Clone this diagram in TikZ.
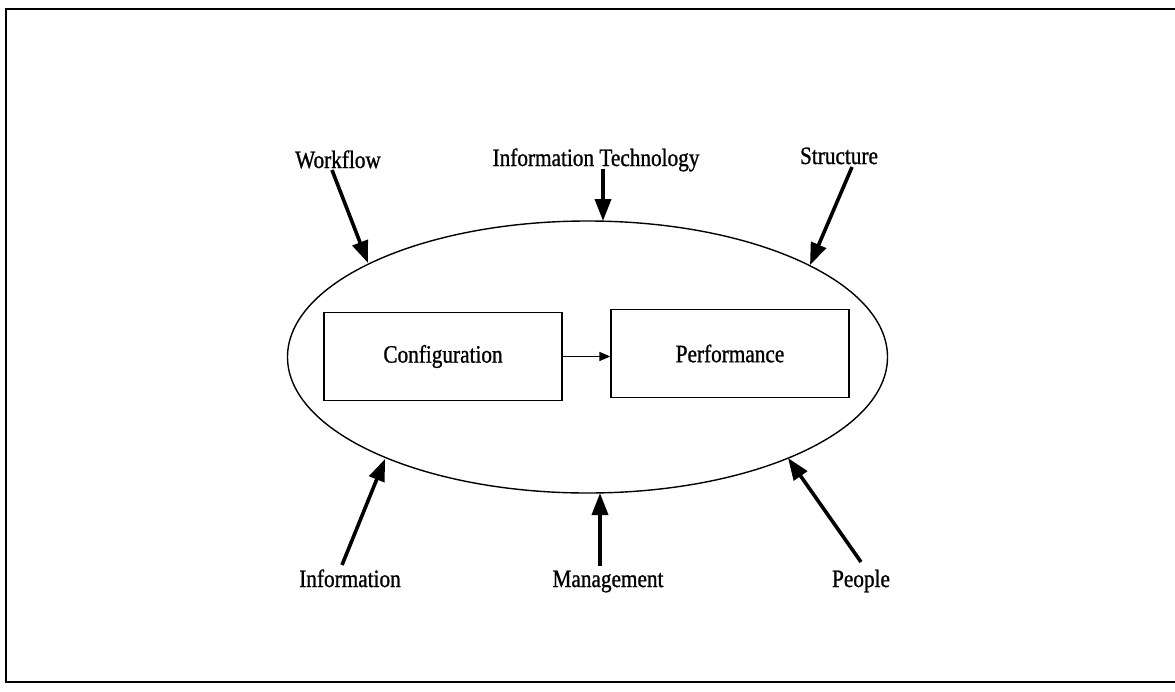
\documentclass[tikz,border=0pt]{standalone}
\usepackage{fontspec}
\setmainfont{Liberation Serif}
\newfontfamily\lblfont{Liberation Serif}[FakeStretch=0.85,FakeBold=1]
\usetikzlibrary{arrows.meta,shapes.geometric}
\begin{document}
\begin{tikzpicture}[x=1pt,y=-1pt,
  lbl/.style={inner sep=0pt, anchor=base, font=\lblfont\fontsize{25}{30}\selectfont},
  boxnode/.style={draw, line width=1.3pt, minimum width=238pt, minimum height=88pt, inner sep=0pt, font=\lblfont\fontsize{25}{30}\selectfont},
  bigarrow/.style={line width=3.6pt, -{Triangle[length=22pt,width=16pt]}},
  smallarrow/.style={line width=1.4pt, -{Triangle[length=11pt,width=9pt]}}]
\useasboundingbox (0,0) rectangle (1175,691);
% frame
\draw[line width=2pt] (1180,9) -- (6,9) -- (6,682) -- (1180,682);
% ellipse
\node[draw, ellipse, line width=1.4pt, minimum width=600pt, minimum height=272pt, inner sep=0pt] (ell) at (587.5,357) {};
% boxes
\node[boxnode] (conf) at (443,356.5) {Configuration};
\node[boxnode] (perf) at (730,353.5) {Performance};
\draw[smallarrow] (conf.east) -- (perf.west |- conf.east);
% labels
\node[lbl] (wf) at (338,168) {Workflow};
\node[lbl] (it) at (596,166) {Information Technology};
\node[lbl] (st) at (839,164) {Structure};
\node[lbl] (inf) at (350,587) {Information};
\node[lbl] (mg) at (608,587) {Management};
\node[lbl] (pp) at (861,587) {People};
% anchor points on ellipse
\coordinate (wfT) at (368,263);
\coordinate (itT) at (603,221);
\coordinate (stT) at (810,265);
\coordinate (infT) at (385,459);
\coordinate (mgT) at (600,493);
\coordinate (ppT) at (788,458);
\coordinate (wfS) at (332,170);
\coordinate (itS) at (603,169);
\coordinate (stS) at (852,167);
\coordinate (infS) at (342,565);
\coordinate (mgS) at (600,566);
\coordinate (ppS) at (861,562);
\draw[bigarrow] (wfS) -- (wfT);
\draw[bigarrow] (itS) -- (itT);
\draw[bigarrow] (stS) -- (stT);
\draw[bigarrow] (infS) -- (infT);
\draw[bigarrow] (mgS) -- (mgT);
\draw[bigarrow] (ppS) -- (ppT);
\end{tikzpicture}
\end{document}
